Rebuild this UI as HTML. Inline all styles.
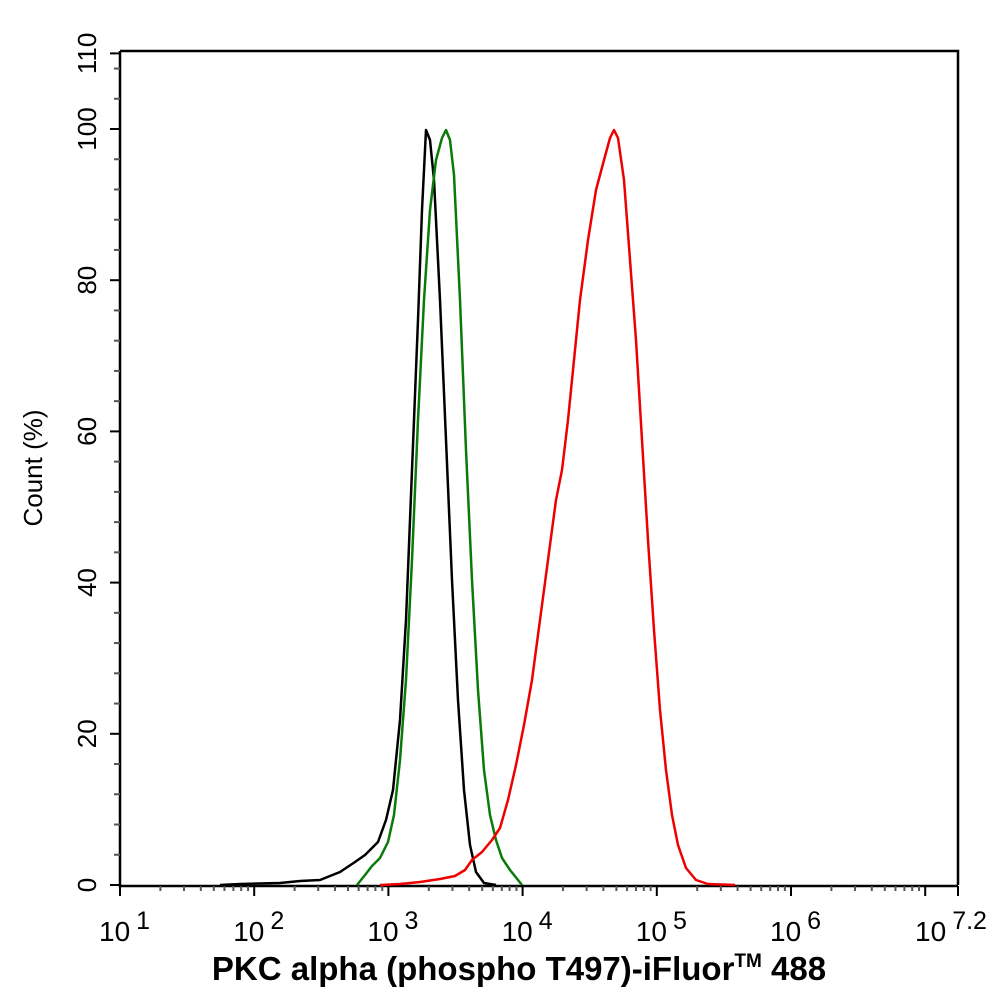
<!DOCTYPE html>
<html><head><style>body{margin:0;background:#fff}svg{display:block}</style></head><body>
<svg width="994" height="1002" viewBox="0 0 994 1002" xmlns="http://www.w3.org/2000/svg" font-family="Liberation Sans, Arial, sans-serif">
<rect width="994" height="1002" fill="#fff"/>
<g stroke="#000" stroke-width="2.5" fill="none">
<path d="M120 51 H958 V885 M120 51 V886 H958"/>
</g>
<g id="yt" stroke="#444" stroke-width="2"></g>
<g id="xt" stroke="#444" stroke-width="2"></g>
<g font-size="26" fill="#000" text-anchor="middle" id="yl"></g>
<g font-size="28" fill="#000" id="xl"></g>
<text transform="translate(42,468) rotate(-90)" font-size="26" text-anchor="middle">Count  (%)</text>
<text x="519" y="980" font-size="33" font-weight="bold" text-anchor="middle">PKC alpha (phospho T497)-iFluor<tspan font-size="19" dy="-13">TM</tspan><tspan dy="13"> 488</tspan></text>
<g stroke-width="2.5" fill="none" stroke-linejoin="round">
<polyline stroke="#000" points="220,885 240,884 280,883 300,881 320,880 340,872 355,862 365,855 378,842 386,820 393,790 400,720 406,620 412,470 418,320 422,210 426,130 430,140 434,180 440,300 446,440 452,580 458,700 464,790 470,845 476,872 484,883 496,885"/>
<polyline stroke="#0a7a0a" points="357,885 365,875 372,866 380,858 388,842 394,815 400,760 406,680 412,560 418,420 424,300 430,210 436,160 442,138 446,130 450,140 454,175 460,300 466,450 472,580 478,690 484,770 490,815 496,840 502,858 510,870 518,880 522,885"/>
<polyline stroke="#e00" points="380,885 400,884 420,882 440,879 455,876 465,870 472,860 482,852 492,840 500,828 508,800 516,765 524,725 532,680 540,620 548,560 556,500 562,470 568,420 574,360 580,300 588,240 596,190 604,160 610,138 614,130 618,138 624,180 630,260 636,340 642,440 648,540 654,630 660,710 666,770 672,815 678,845 686,868 696,880 708,884 735,885"/>
</g>
<script>
var NS="http://www.w3.org/2000/svg";
function el(p,t,a,txt){var e=document.createElementNS(NS,t);for(var k in a)e.setAttribute(k,a[k]);if(txt)e.textContent=txt;p.appendChild(e);return e;}
var yt=document.getElementById('yt'),xt=document.getElementById('xt'),yl=document.getElementById('yl'),xl=document.getElementById('xl');
function Y(v){return 885-v*7.56;}
for(var v=0;v<=110;v+=4){var maj=v%20==0;el(yt,'line',{x1:maj?110:114,x2:120,y1:Y(v),y2:Y(v),stroke:maj?'#000':'#555'});}
el(yt,'line',{x1:110,x2:120,y1:Y(110),y2:Y(110),stroke:'#000'});
for(var v=0;v<=110;v+=20){el(yl,'text',{transform:'translate(96,'+Y(v)+') rotate(-90)'},''+v);}
el(yl,'text',{transform:'translate(96,'+Y(110)+') rotate(-90)'},'110');
function X(l){return 120+(l-1)*134.2;}
for(var d=1;d<=7;d++){el(xt,'line',{x1:X(d),x2:X(d),y1:886,y2:896,stroke:'#000'});
 for(var m=2;m<=9;m++){var l=d+Math.log10(m);if(l<7.2)el(xt,'line',{x1:X(l),x2:X(l),y1:886,y2:891,stroke:'#555'});}}
el(xt,'line',{x1:958,x2:958,y1:886,y2:896,stroke:'#000'});
var labs=[[1,'1'],[2,'2'],[3,'3'],[4,'4'],[5,'5'],[6,'6'],[7.2,'7.2']];
labs.forEach(function(a){var x=X(a[0]);var off=a[1]=='7.2'?-37:-21;var t=el(xl,'text',{x:x+off,y:941},'10');el(t,'tspan',{dx:'6',dy:'-12','font-size':'25'},a[1]);});
</script>
</svg>
</body></html>
